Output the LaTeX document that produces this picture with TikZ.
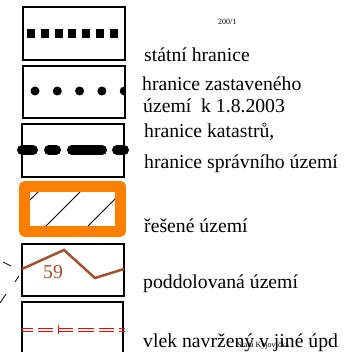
\documentclass[tikz,border=0pt]{standalone}
\usepackage{fontspec}
\setmainfont{Liberation Serif}
\definecolor{orangeline}{RGB}{255,128,0}
\definecolor{brownline}{RGB}{160,82,45}
\tikzset{
  lbl/.style={anchor=base west, inner sep=0pt, font=\fontsize{19.7}{22}\selectfont},
  tiny/.style={anchor=base west, inner sep=0pt, font=\fontsize{8}{9}\selectfont},
  legbox/.style={line width=2pt}
}
\begin{document}
\begin{tikzpicture}[x=1pt, y=-1pt]
      \useasboundingbox (0,0) rectangle (345,352);

      \draw[legbox] (23,7) rectangle (125,60);
      \foreach \x in {0,...,6} {
        \fill (27 + \x * 13.8, 29) rectangle ++(8, 9);
      }

      \draw[legbox] (23,66) rectangle (125,118);
      \begin{scope}
        \clip (23,66) rectangle (124,118);
        \foreach \x in {0,...,4} {
          \fill (35 + \x * 22.3, 91) circle (4.5);
        }
      \end{scope}

      \draw[legbox] (22,124) rectangle (124,177);
      \foreach \a/\b in {22/33, 49/56, 72/102, 117/124} {
        \draw[line width=10pt, line cap=round] (\a,150) -- (\b,150);
      }

      \begin{scope}
        \clip (30,192) rectangle (115,226);
        \foreach \x in {4,46,88} {
          \draw[line width=0.9pt] (\x,226) -- ++(45,-45);
        }
      \end{scope}
      \draw[orangeline, line width=11pt, line join=round] (24.5,186.5) rectangle (120.5,231);

      \draw[legbox] (22,244) rectangle (124,296);
      \draw[brownline, line width=2.5pt] (22,269) -- (64,250) -- (95,278) -- (124,269);
      \node[brownline, font=\fontsize{19.7}{22}\selectfont, inner sep=0pt] (num) at (53,272) {59};
      \draw[line width=0.8pt] (3,262) -- (11,266);
      \draw[line width=0.8pt] (15,282) -- (19,276);
      \draw[line width=0.8pt] (0,303) -- (6,294);

      \draw[legbox] (22,353) -- (22,302) -- (123,302) -- (123,353);
      \foreach \a/\b in {22/33, 38/53, 58/73, 78/94, 99/114, 119/125} {
        \draw[red, line width=1pt] (\a,328) -- (\b,328);
        \draw[red, line width=1pt] (\a,331) -- (\b,331);
      }
      \draw[red, line width=1pt] (58,325) -- (58,334);

      \node[tiny] (sheet) at (218,25) {200/1};
      \node[lbl] (state) at (144,62) {státní hranice};
      \node[lbl] (built1) at (142,91) {hranice zastaveného};
      \node[lbl] (built2) at (143,113) {území\ \ k 1.8.2003};
      \node[lbl] (cad1) at (144,138) {hranice katastrů,};
      \node[lbl] (cad2) at (144,168) {hranice správního území};
      \node[lbl] (area) at (144,232) {řešené území};
      \node[lbl] (mine) at (143,288) {poddolovaná území};
      \node[lbl] (lift) at (143,347) {vlek navržený v jiné úpd};
      \node[tiny] (place) at (237,347) {Stará Kyjovička};
    \end{tikzpicture}
\end{document}
